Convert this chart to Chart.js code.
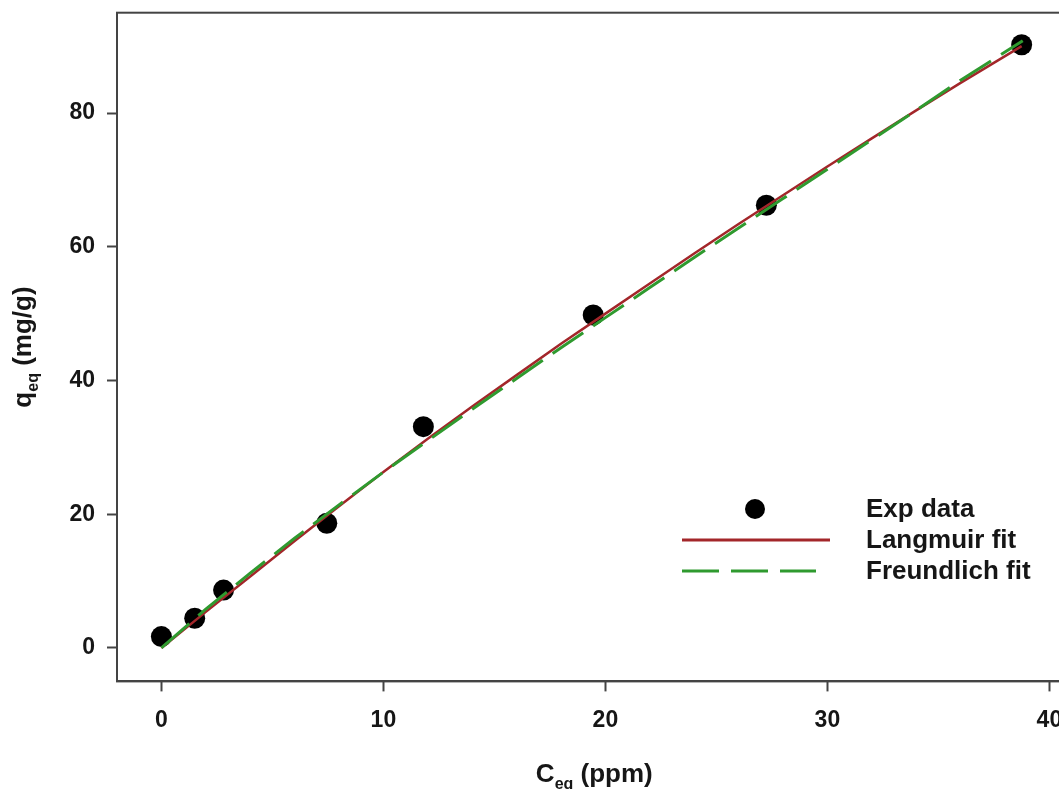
<!DOCTYPE html>
<html>
<head>
<meta charset="utf-8">
<script src="https://cdn.jsdelivr.net/npm/chart.js@4.4.1/dist/chart.umd.min.js"></script>
<style>
  html, body { margin: 0; padding: 0; background: #fff; overflow: hidden; }
  #wrap { position: relative; width: 1090px; height: 789px; }
</style>
</head>
<body>
<div id="wrap"><canvas id="isoChart"></canvas></div>
<script>
// experimental points
const expC = [0, 1.5, 2.8, 7.45, 11.8, 19.45, 27.25, 38.75];
const expQ = [1.7, 4.45, 8.65, 18.65, 33.1, 49.8, 66.2, 90.2];

// fitted curves
const langC = [0, 2, 4, 6, 8, 10, 12, 14, 16, 18, 20, 22, 24, 26, 28, 30, 32, 34, 36, 38.75];
const langQ = [0, 5.4, 10.7, 16.0, 21.2, 26.3, 31.3, 36.1, 40.8, 45.5, 50.0, 54.5, 59.0, 63.4, 67.7, 72.0, 76.2, 80.4, 84.5, 90.0];
const freuC = [0, 2, 4, 6, 8, 10, 12, 14, 16, 18, 20, 22, 24, 26, 28, 30, 32, 34, 36, 38.8];
const freuQ = [0, 5.8, 11.2, 16.4, 21.4, 26.3, 31.0, 35.7, 40.3, 44.9, 49.4, 53.9, 58.4, 62.8, 67.2, 71.6, 76.0, 80.4, 84.9, 90.8];

const xTicks = [0, 10, 20, 30, 40];
const yTicks = [0, 20, 40, 60, 80];
const legendLabels = ['Exp data', 'Langmuir fit', 'Freundlich fit'];

const RED = '#a3262a';
const GREEN = '#2f9a2f';
const AXIS = '#444';
const TEXT = '#161616';
const FONT = "'Liberation Sans', Arial, sans-serif";

const toXY = (xs, ys) => xs.map((x, i) => ({ x, y: ys[i] }));

// box + axis titles + legend, drawn in R style
const decorations = {
    id: 'decorations',
    afterDraw(chart) {
        const { ctx, chartArea: a } = chart;
        ctx.save();
        ctx.strokeStyle = AXIS;
        ctx.lineWidth = 2;
        ctx.strokeRect(a.left, a.top, a.right - a.left, a.bottom - a.top);

        ctx.fillStyle = TEXT;
        // x title
        const cx = (a.left + a.right) / 2;
        ctx.font = 'bold 26px ' + FONT;
        const wC = ctx.measureText('C').width;
        const wRest = ctx.measureText(' (ppm)').width;
        ctx.font = 'bold 16px ' + FONT;
        const wSub = ctx.measureText('eq').width;
        let x0 = cx - (wC + wSub + wRest) / 2;
        ctx.textBaseline = 'alphabetic';
        ctx.textAlign = 'left';
        ctx.font = 'bold 26px ' + FONT;
        ctx.fillText('C', x0, 782);
        ctx.font = 'bold 16px ' + FONT;
        ctx.fillText('eq', x0 + wC, 789);
        ctx.font = 'bold 26px ' + FONT;
        ctx.fillText(' (ppm)', x0 + wC + wSub, 782);

        // y title
        ctx.translate(31, (a.top + a.bottom) / 2);
        ctx.rotate(-Math.PI / 2);
        ctx.font = 'bold 26px ' + FONT;
        const wq = ctx.measureText('q').width;
        const wR = ctx.measureText(' (mg/g)').width;
        ctx.font = 'bold 16px ' + FONT;
        const ws = ctx.measureText('eq').width;
        x0 = -(wq + ws + wR) / 2;
        ctx.font = 'bold 26px ' + FONT;
        ctx.fillText('q', x0, 0);
        ctx.font = 'bold 16px ' + FONT;
        ctx.fillText('eq', x0 + wq, 7);
        ctx.font = 'bold 26px ' + FONT;
        ctx.fillText(' (mg/g)', x0 + wq + ws, 0);
        ctx.restore();

        // legend
        ctx.save();
        ctx.fillStyle = '#000';
        ctx.beginPath();
        ctx.arc(755, 509, 10, 0, Math.PI * 2);
        ctx.fill();
        ctx.lineWidth = 3;
        ctx.strokeStyle = RED;
        ctx.beginPath();
        ctx.moveTo(682, 540);
        ctx.lineTo(830, 540);
        ctx.stroke();
        ctx.strokeStyle = GREEN;
        ctx.setLineDash([37, 12]);
        ctx.beginPath();
        ctx.moveTo(682, 571);
        ctx.lineTo(816, 571);
        ctx.stroke();
        ctx.setLineDash([]);
        ctx.fillStyle = TEXT;
        ctx.font = 'bold 26px ' + FONT;
        ctx.textBaseline = 'middle';
        ctx.textAlign = 'left';
        ctx.fillText(legendLabels[0], 866, 510);
        ctx.fillText(legendLabels[1], 866, 541);
        ctx.fillText(legendLabels[2], 866, 572);
        ctx.restore();
    }
};

const tickFont = { size: 23, weight: 'bold', family: FONT };

new Chart(document.getElementById('isoChart').getContext('2d'), {
    type: 'scatter',
    data: {
        datasets: [
            {
                label: legendLabels[2],
                data: toXY(freuC, freuQ),
                showLine: true,
                borderColor: GREEN,
                borderWidth: 3,
                borderDash: [37, 12],
                pointRadius: 0,
                tension: 0,
                order: 1,
            },
            {
                label: legendLabels[1],
                data: toXY(langC, langQ),
                showLine: true,
                borderColor: RED,
                borderWidth: 2.5,
                pointRadius: 0,
                tension: 0,
                order: 2,
            },
            {
                label: legendLabels[0],
                data: toXY(expC, expQ),
                showLine: false,
                pointRadius: 10.5,
                pointBackgroundColor: '#000',
                pointBorderColor: '#000',
                pointBorderWidth: 0,
                order: 3,
            },
        ],
    },
    options: {
        responsive: true,
        maintainAspectRatio: false,
        animation: false,
        layout: { padding: { top: 12.7, right: 18.4, left: 0, bottom: 0 } },
        plugins: { legend: { display: false }, tooltip: { enabled: false } },
        scales: {
            x: {
                type: 'linear',
                min: -2,
                max: 41,
                afterBuildTicks: s => { s.ticks = xTicks.map(v => ({ value: v })); },
                afterFit: s => { s.height = 107.6; s.paddingLeft = 0; s.paddingRight = 0; },
                grid: { drawOnChartArea: false, tickLength: 10, tickColor: AXIS, tickWidth: 2 },
                border: { color: AXIS, width: 2 },
                ticks: { font: tickFont, color: TEXT, padding: 15, maxRotation: 0 },
            },
            y: {
                type: 'linear',
                min: -5,
                max: 95,
                afterBuildTicks: s => { s.ticks = yTicks.map(v => ({ value: v })); },
                afterFit: s => { s.width = 117; s.paddingTop = 0; s.paddingBottom = 0; },
                grid: { drawOnChartArea: false, tickLength: 10, tickColor: AXIS, tickWidth: 2 },
                border: { color: AXIS, width: 2 },
                ticks: { font: tickFont, color: TEXT, padding: 12 },
            },
        },
    },
    plugins: [decorations],
});
</script>
</body>
</html>
